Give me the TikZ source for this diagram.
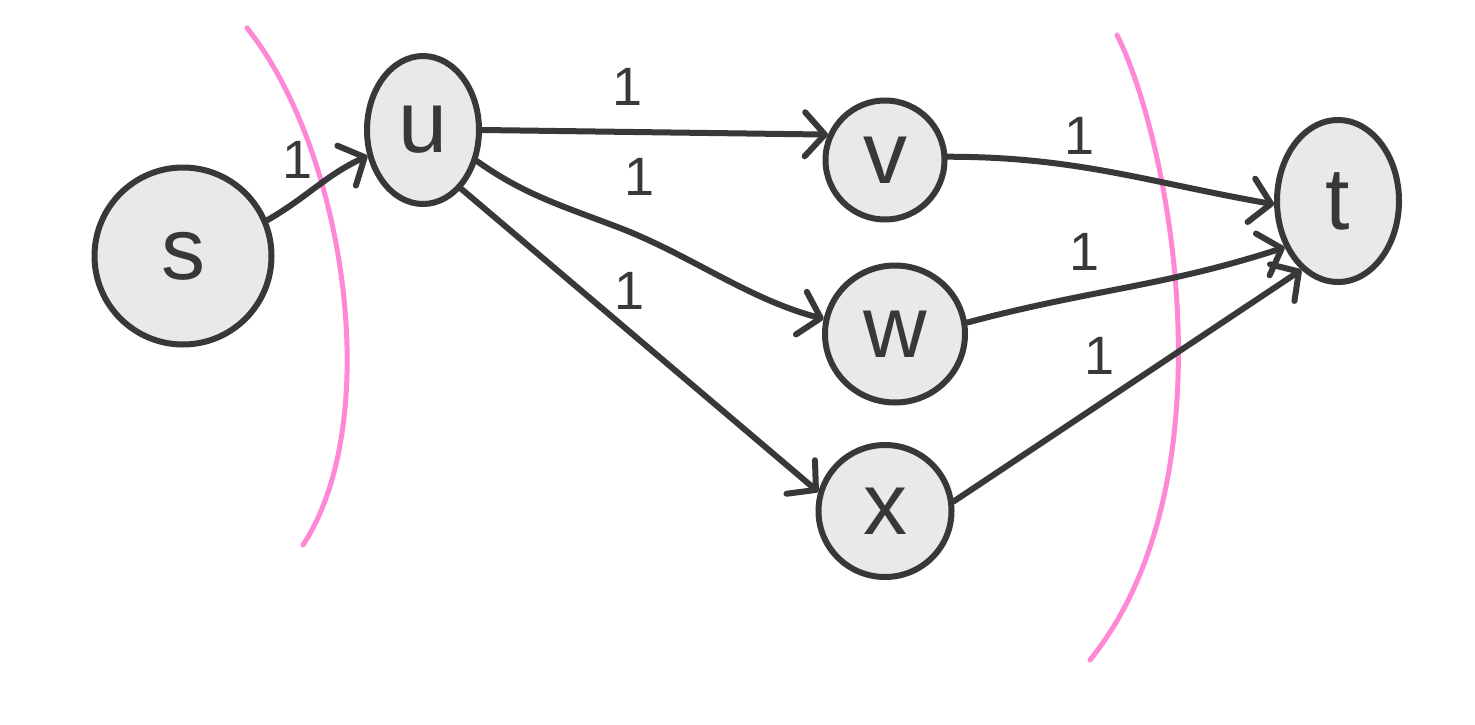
\documentclass[tikz,border=0pt]{standalone}
\usepackage{fontspec}
\setmainfont{Liberation Sans}
\usetikzlibrary{shapes.geometric,arrows.meta}
\definecolor{ink}{RGB}{56,56,56}
\definecolor{nodefill}{RGB}{233,233,233}
\definecolor{cutpink}{RGB}{255,136,214}
\tikzset{
  vertex/.style={ellipse, draw=ink, fill=nodefill, line width=6pt, inner sep=0pt,
    text=ink, font=\fontsize{88}{88}\selectfont},
  edge/.style={draw=ink, line width=6pt, line cap=round,
    -{Straight Barb[length=20pt,width=44pt,round]}},
  weight/.style={text=ink, font=\fontsize{54}{54}\selectfont, inner sep=0pt},
  cutline/.style={draw=cutpink, line width=5pt, line cap=round}
}
\begin{document}
\begin{tikzpicture}[x=1pt,y=-1pt]
\useasboundingbox[fill=white] (0,0) rectangle (1475,725);

% vertices
\node[vertex, minimum width=177pt, minimum height=177pt] (s) at (183,256) {s};
\node[vertex, minimum width=112pt, minimum height=148pt] (u) at (423,130) {u};
\node[vertex, minimum width=119pt, minimum height=119pt] (v) at (885,160) {v};
\node[vertex, minimum width=140pt, minimum height=137pt] (w) at (895,334) {w};
\node[vertex, minimum width=133pt, minimum height=132pt] (x) at (885,511) {x};
\node[vertex, minimum width=122pt, minimum height=162pt] (t) at (1338,201) {t};

% cut lines
\draw[cutline] (247,28) .. controls (345,150) and (385,420) .. (303,545);
\draw[cutline] (1117,35) .. controls (1170,140) and (1235,480) .. (1090,660);

% edges
\draw[edge] (s.23) to[out=30,in=205] (u.205);
\draw[edge] (u.0) -- (v.156);
\draw[edge] (u.-30) .. controls (525,195) and (560,205) .. (620,228)
            .. controls (690,255) and (750,300) .. (w.168);
\draw[edge] (u.-57) -- (x.164);
\draw[edge] (v.3) to[out=0,in=170] (t.183);
\draw[edge] (w.9) to[out=15,in=198] (t.221);
\draw[edge] (x.8) -- (t.242);

% capacities
\node[weight] (c1) at (298,160) {1};
\node[weight] (c2) at (628,87) {1};
\node[weight] (c3) at (640,177) {1};
\node[weight] (c4) at (630,291) {1};
\node[weight] (c5) at (1080,136) {1};
\node[weight] (c6) at (1085,252) {1};
\node[weight] (c7) at (1100,356) {1};
\end{tikzpicture}
\end{document}
